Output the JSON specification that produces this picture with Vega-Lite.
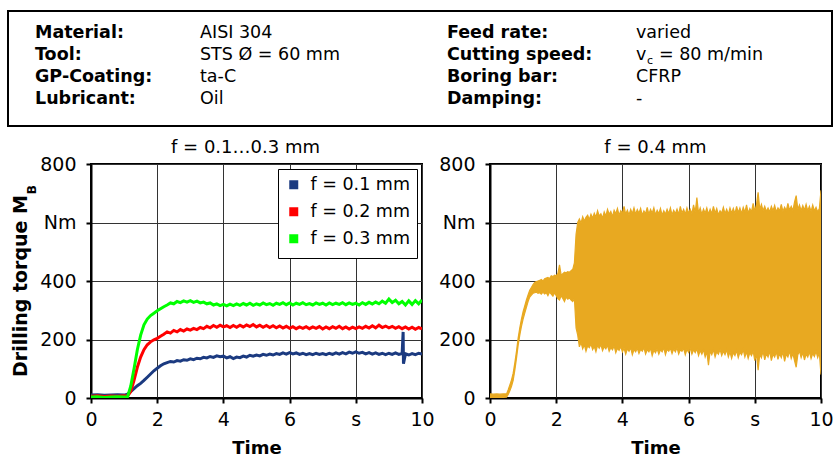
{
"$schema": "https://vega.github.io/schema/vega-lite/v6.json",
"background": "white",
"padding": {"left": 7, "top": 10, "right": 0, "bottom": 0},
"spacing": 11,
"resolve": {"scale": {"color": "independent"}, "legend": {"color": "independent"}},
"config": {
  "font": "DejaVu Sans",
  "view": {"stroke": "black", "strokeWidth": 2},
  "axis": {"domainColor": "black", "domainWidth": 2, "tickColor": "black", "tickWidth": 2, "tickSize": 5, "gridColor": "#333", "gridWidth": 1, "labelFont": "DejaVu Sans", "labelFontSize": 19, "labelColor": "black", "titleFont": "DejaVu Sans", "titleFontSize": 18, "titleColor": "black", "titleFontWeight": "bold"},
  "title": {"font": "DejaVu Sans", "fontSize": 18, "fontWeight": "normal", "color": "black", "offset": -2}
},
"vconcat": [
  {
    "width": 741, "height": 115,
    "view": {"stroke": null},
    "resolve": {"scale": {"x": "independent"}},
    "layer": [
      {
        "data": {"values": [{"a": 0, "b": 1}]},
        "mark": {"type": "rect", "fill": "white", "stroke": "black", "strokeWidth": 2},
        "encoding": {
          "x": {"field": "a", "type": "quantitative", "scale": {"domain": [0, 1], "range": [-83, 741]}, "axis": null},
          "x2": {"field": "b"}
        }
      },
      {
        "data": {"values": [
          {"side": "L", "line": 1, "kind": "k", "text": "Material:"},
          {"side": "L", "line": 1, "kind": "v", "text": "AISI 304"},
          {"side": "L", "line": 2, "kind": "k", "text": "Tool:"},
          {"side": "L", "line": 2, "kind": "v", "text": "STS Ø = 60 mm"},
          {"side": "L", "line": 3, "kind": "k", "text": "GP-Coating:"},
          {"side": "L", "line": 3, "kind": "v", "text": "ta-C"},
          {"side": "L", "line": 4, "kind": "k", "text": "Lubricant:"},
          {"side": "L", "line": 4, "kind": "v", "text": "Oil"},
          {"side": "R", "line": 1, "kind": "k", "text": "Feed rate:"},
          {"side": "R", "line": 1, "kind": "v", "text": "varied"},
          {"side": "R", "line": 2, "kind": "k", "text": "Cutting speed:"},
          {"side": "R", "line": 2, "kind": "v", "text": "v"},
          {"side": "R", "line": 2, "kind": "sub", "text": "c"},
          {"side": "R", "line": 2, "kind": "rest", "text": "= 80 m/min"},
          {"side": "R", "line": 3, "kind": "k", "text": "Boring bar:"},
          {"side": "R", "line": 3, "kind": "v", "text": "CFRP"},
          {"side": "R", "line": 4, "kind": "k", "text": "Damping:"},
          {"side": "R", "line": 4, "kind": "v", "text": "-"}
        ]},
        "encoding": {
          "x": {"field": "side", "type": "nominal", "scale": {"type": "point", "domain": ["L", "R"], "range": [-56, 356], "padding": 0}, "axis": null},
          "y": {"field": "line", "type": "ordinal", "scale": {"type": "point", "domain": [1, 2, 3, 4], "range": [27, 93], "padding": 0}, "axis": null},
          "text": {"field": "text"}
        },
        "layer": [
          {"transform": [{"filter": "datum.kind == 'k'"}], "mark": {"type": "text", "align": "left", "baseline": "alphabetic", "fontSize": 17.5, "fontWeight": "bold", "color": "black"}},
          {"transform": [{"filter": "datum.kind == 'v' && datum.side == 'L'"}], "mark": {"type": "text", "align": "left", "baseline": "alphabetic", "fontSize": 17.5, "color": "black", "dx": 165}},
          {"transform": [{"filter": "datum.kind == 'v' && datum.side == 'R'"}], "mark": {"type": "text", "align": "left", "baseline": "alphabetic", "fontSize": 17.5, "color": "black", "dx": 189}},
          {"transform": [{"filter": "datum.kind == 'sub'"}], "mark": {"type": "text", "align": "left", "baseline": "alphabetic", "fontSize": 11, "color": "black", "dx": 200, "dy": 4}},
          {"transform": [{"filter": "datum.kind == 'rest'"}], "mark": {"type": "text", "align": "left", "baseline": "alphabetic", "fontSize": 17.5, "color": "black", "dx": 212}}
        ]
      }
    ]
  },
  {
    "spacing": 1,
    "resolve": {"scale": {"color": "independent"}, "legend": {"color": "independent"}},
    "hconcat": [
      {
        "width": 331, "height": 234,
        "title": {"text": "f = 0.1…0.3 mm", "dx": -11},
        "layer": [
          {
            "data": {"values": [
              {"s":"f = 0.1 mm","t":0,"v":10},{"s":"f = 0.1 mm","t":0.2,"v":11},{"s":"f = 0.1 mm","t":0.4,"v":9},{"s":"f = 0.1 mm","t":0.6,"v":10},{"s":"f = 0.1 mm","t":0.8,"v":11},{"s":"f = 0.1 mm","t":1.0,"v":10},{"s":"f = 0.1 mm","t":1.1,"v":13},{"s":"f = 0.1 mm","t":1.2,"v":22},{"s":"f = 0.1 mm","t":1.3,"v":32},{"s":"f = 0.1 mm","t":1.4,"v":42},{"s":"f = 0.1 mm","t":1.5,"v":50},{"s":"f = 0.1 mm","t":1.6,"v":60},{"s":"f = 0.1 mm","t":1.7,"v":71},{"s":"f = 0.1 mm","t":1.8,"v":82},{"s":"f = 0.1 mm","t":1.9,"v":93},{"s":"f = 0.1 mm","t":2.0,"v":102},{"s":"f = 0.1 mm","t":2.1,"v":110},{"s":"f = 0.1 mm","t":2.2,"v":117},{"s":"f = 0.1 mm","t":2.3,"v":121},{"s":"f = 0.1 mm","t":2.4,"v":125},{"s":"f = 0.1 mm","t":2.5,"v":123},{"s":"f = 0.1 mm","t":2.6,"v":128},{"s":"f = 0.1 mm","t":2.7,"v":126},{"s":"f = 0.1 mm","t":2.8,"v":131},{"s":"f = 0.1 mm","t":2.9,"v":129},{"s":"f = 0.1 mm","t":3.0,"v":134},{"s":"f = 0.1 mm","t":3.1,"v":131},{"s":"f = 0.1 mm","t":3.2,"v":136},{"s":"f = 0.1 mm","t":3.3,"v":134},{"s":"f = 0.1 mm","t":3.4,"v":139},{"s":"f = 0.1 mm","t":3.5,"v":137},{"s":"f = 0.1 mm","t":3.6,"v":142},{"s":"f = 0.1 mm","t":3.7,"v":139},{"s":"f = 0.1 mm","t":3.8,"v":144},{"s":"f = 0.1 mm","t":3.9,"v":141},{"s":"f = 0.1 mm","t":4.0,"v":143},{"s":"f = 0.1 mm","t":4.1,"v":137},{"s":"f = 0.1 mm","t":4.2,"v":141},{"s":"f = 0.1 mm","t":4.3,"v":135},{"s":"f = 0.1 mm","t":4.4,"v":140},{"s":"f = 0.1 mm","t":4.5,"v":138},{"s":"f = 0.1 mm","t":4.6,"v":143},{"s":"f = 0.1 mm","t":4.7,"v":140},{"s":"f = 0.1 mm","t":4.8,"v":146},{"s":"f = 0.1 mm","t":4.9,"v":143},{"s":"f = 0.1 mm","t":5.0,"v":147},{"s":"f = 0.1 mm","t":5.1,"v":144},{"s":"f = 0.1 mm","t":5.2,"v":149},{"s":"f = 0.1 mm","t":5.3,"v":146},{"s":"f = 0.1 mm","t":5.4,"v":150},{"s":"f = 0.1 mm","t":5.5,"v":147},{"s":"f = 0.1 mm","t":5.6,"v":152},{"s":"f = 0.1 mm","t":5.7,"v":149},{"s":"f = 0.1 mm","t":5.8,"v":154},{"s":"f = 0.1 mm","t":5.9,"v":150},{"s":"f = 0.1 mm","t":6.0,"v":155},{"s":"f = 0.1 mm","t":6.1,"v":151},{"s":"f = 0.1 mm","t":6.2,"v":154},{"s":"f = 0.1 mm","t":6.3,"v":149},{"s":"f = 0.1 mm","t":6.4,"v":153},{"s":"f = 0.1 mm","t":6.5,"v":148},{"s":"f = 0.1 mm","t":6.6,"v":152},{"s":"f = 0.1 mm","t":6.7,"v":148},{"s":"f = 0.1 mm","t":6.8,"v":153},{"s":"f = 0.1 mm","t":6.9,"v":149},{"s":"f = 0.1 mm","t":7.0,"v":152},{"s":"f = 0.1 mm","t":7.1,"v":148},{"s":"f = 0.1 mm","t":7.2,"v":153},{"s":"f = 0.1 mm","t":7.3,"v":149},{"s":"f = 0.1 mm","t":7.4,"v":154},{"s":"f = 0.1 mm","t":7.5,"v":150},{"s":"f = 0.1 mm","t":7.6,"v":155},{"s":"f = 0.1 mm","t":7.7,"v":151},{"s":"f = 0.1 mm","t":7.8,"v":157},{"s":"f = 0.1 mm","t":7.9,"v":153},{"s":"f = 0.1 mm","t":8.0,"v":158},{"s":"f = 0.1 mm","t":8.1,"v":153},{"s":"f = 0.1 mm","t":8.2,"v":156},{"s":"f = 0.1 mm","t":8.3,"v":151},{"s":"f = 0.1 mm","t":8.4,"v":155},{"s":"f = 0.1 mm","t":8.5,"v":150},{"s":"f = 0.1 mm","t":8.6,"v":154},{"s":"f = 0.1 mm","t":8.7,"v":149},{"s":"f = 0.1 mm","t":8.8,"v":153},{"s":"f = 0.1 mm","t":8.9,"v":148},{"s":"f = 0.1 mm","t":9.0,"v":153},{"s":"f = 0.1 mm","t":9.1,"v":149},{"s":"f = 0.1 mm","t":9.2,"v":154},{"s":"f = 0.1 mm","t":9.3,"v":149},{"s":"f = 0.1 mm","t":9.4,"v":152},{"s":"f = 0.1 mm","t":9.43,"v":226},{"s":"f = 0.1 mm","t":9.44,"v":117},{"s":"f = 0.1 mm","t":9.5,"v":151},{"s":"f = 0.1 mm","t":9.6,"v":147},{"s":"f = 0.1 mm","t":9.7,"v":152},{"s":"f = 0.1 mm","t":9.8,"v":148},{"s":"f = 0.1 mm","t":9.9,"v":153},{"s":"f = 0.1 mm","t":10.0,"v":150},
              {"s":"f = 0.2 mm","t":0,"v":6},{"s":"f = 0.2 mm","t":0.2,"v":8},{"s":"f = 0.2 mm","t":0.4,"v":5},{"s":"f = 0.2 mm","t":0.6,"v":7},{"s":"f = 0.2 mm","t":0.8,"v":6},{"s":"f = 0.2 mm","t":1.0,"v":8},{"s":"f = 0.2 mm","t":1.1,"v":6},{"s":"f = 0.2 mm","t":1.2,"v":22},{"s":"f = 0.2 mm","t":1.3,"v":60},{"s":"f = 0.2 mm","t":1.4,"v":105},{"s":"f = 0.2 mm","t":1.5,"v":140},{"s":"f = 0.2 mm","t":1.6,"v":165},{"s":"f = 0.2 mm","t":1.7,"v":182},{"s":"f = 0.2 mm","t":1.8,"v":192},{"s":"f = 0.2 mm","t":1.9,"v":199},{"s":"f = 0.2 mm","t":2.0,"v":204},{"s":"f = 0.2 mm","t":2.1,"v":211},{"s":"f = 0.2 mm","t":2.2,"v":218},{"s":"f = 0.2 mm","t":2.3,"v":226},{"s":"f = 0.2 mm","t":2.4,"v":222},{"s":"f = 0.2 mm","t":2.5,"v":231},{"s":"f = 0.2 mm","t":2.6,"v":226},{"s":"f = 0.2 mm","t":2.7,"v":234},{"s":"f = 0.2 mm","t":2.8,"v":229},{"s":"f = 0.2 mm","t":2.9,"v":236},{"s":"f = 0.2 mm","t":3.0,"v":232},{"s":"f = 0.2 mm","t":3.1,"v":238},{"s":"f = 0.2 mm","t":3.2,"v":234},{"s":"f = 0.2 mm","t":3.3,"v":241},{"s":"f = 0.2 mm","t":3.4,"v":237},{"s":"f = 0.2 mm","t":3.5,"v":245},{"s":"f = 0.2 mm","t":3.6,"v":240},{"s":"f = 0.2 mm","t":3.7,"v":248},{"s":"f = 0.2 mm","t":3.8,"v":242},{"s":"f = 0.2 mm","t":3.9,"v":249},{"s":"f = 0.2 mm","t":4.0,"v":243},{"s":"f = 0.2 mm","t":4.1,"v":247},{"s":"f = 0.2 mm","t":4.2,"v":241},{"s":"f = 0.2 mm","t":4.3,"v":248},{"s":"f = 0.2 mm","t":4.4,"v":242},{"s":"f = 0.2 mm","t":4.5,"v":249},{"s":"f = 0.2 mm","t":4.6,"v":243},{"s":"f = 0.2 mm","t":4.7,"v":250},{"s":"f = 0.2 mm","t":4.8,"v":244},{"s":"f = 0.2 mm","t":4.9,"v":251},{"s":"f = 0.2 mm","t":5.0,"v":243},{"s":"f = 0.2 mm","t":5.1,"v":249},{"s":"f = 0.2 mm","t":5.2,"v":242},{"s":"f = 0.2 mm","t":5.3,"v":248},{"s":"f = 0.2 mm","t":5.4,"v":241},{"s":"f = 0.2 mm","t":5.5,"v":247},{"s":"f = 0.2 mm","t":5.6,"v":240},{"s":"f = 0.2 mm","t":5.7,"v":246},{"s":"f = 0.2 mm","t":5.8,"v":239},{"s":"f = 0.2 mm","t":5.9,"v":245},{"s":"f = 0.2 mm","t":6.0,"v":238},{"s":"f = 0.2 mm","t":6.1,"v":244},{"s":"f = 0.2 mm","t":6.2,"v":237},{"s":"f = 0.2 mm","t":6.3,"v":243},{"s":"f = 0.2 mm","t":6.4,"v":238},{"s":"f = 0.2 mm","t":6.5,"v":244},{"s":"f = 0.2 mm","t":6.6,"v":237},{"s":"f = 0.2 mm","t":6.7,"v":243},{"s":"f = 0.2 mm","t":6.8,"v":238},{"s":"f = 0.2 mm","t":6.9,"v":244},{"s":"f = 0.2 mm","t":7.0,"v":236},{"s":"f = 0.2 mm","t":7.1,"v":243},{"s":"f = 0.2 mm","t":7.2,"v":237},{"s":"f = 0.2 mm","t":7.3,"v":244},{"s":"f = 0.2 mm","t":7.4,"v":238},{"s":"f = 0.2 mm","t":7.5,"v":245},{"s":"f = 0.2 mm","t":7.6,"v":237},{"s":"f = 0.2 mm","t":7.7,"v":243},{"s":"f = 0.2 mm","t":7.8,"v":236},{"s":"f = 0.2 mm","t":7.9,"v":242},{"s":"f = 0.2 mm","t":8.0,"v":237},{"s":"f = 0.2 mm","t":8.1,"v":243},{"s":"f = 0.2 mm","t":8.2,"v":238},{"s":"f = 0.2 mm","t":8.3,"v":245},{"s":"f = 0.2 mm","t":8.4,"v":239},{"s":"f = 0.2 mm","t":8.5,"v":247},{"s":"f = 0.2 mm","t":8.6,"v":240},{"s":"f = 0.2 mm","t":8.7,"v":249},{"s":"f = 0.2 mm","t":8.8,"v":241},{"s":"f = 0.2 mm","t":8.9,"v":246},{"s":"f = 0.2 mm","t":9.0,"v":240},{"s":"f = 0.2 mm","t":9.1,"v":245},{"s":"f = 0.2 mm","t":9.2,"v":238},{"s":"f = 0.2 mm","t":9.3,"v":244},{"s":"f = 0.2 mm","t":9.4,"v":237},{"s":"f = 0.2 mm","t":9.5,"v":243},{"s":"f = 0.2 mm","t":9.6,"v":236},{"s":"f = 0.2 mm","t":9.7,"v":242},{"s":"f = 0.2 mm","t":9.8,"v":235},{"s":"f = 0.2 mm","t":9.9,"v":241},{"s":"f = 0.2 mm","t":10.0,"v":236},
              {"s":"f = 0.3 mm","t":0,"v":3},{"s":"f = 0.3 mm","t":0.2,"v":4},{"s":"f = 0.3 mm","t":0.4,"v":2},{"s":"f = 0.3 mm","t":0.6,"v":3},{"s":"f = 0.3 mm","t":0.8,"v":4},{"s":"f = 0.3 mm","t":1.0,"v":3},{"s":"f = 0.3 mm","t":1.1,"v":3},{"s":"f = 0.3 mm","t":1.2,"v":40},{"s":"f = 0.3 mm","t":1.3,"v":100},{"s":"f = 0.3 mm","t":1.4,"v":165},{"s":"f = 0.3 mm","t":1.5,"v":215},{"s":"f = 0.3 mm","t":1.6,"v":250},{"s":"f = 0.3 mm","t":1.7,"v":270},{"s":"f = 0.3 mm","t":1.8,"v":282},{"s":"f = 0.3 mm","t":1.9,"v":290},{"s":"f = 0.3 mm","t":2.0,"v":298},{"s":"f = 0.3 mm","t":2.1,"v":305},{"s":"f = 0.3 mm","t":2.2,"v":312},{"s":"f = 0.3 mm","t":2.3,"v":318},{"s":"f = 0.3 mm","t":2.4,"v":325},{"s":"f = 0.3 mm","t":2.5,"v":322},{"s":"f = 0.3 mm","t":2.6,"v":330},{"s":"f = 0.3 mm","t":2.7,"v":326},{"s":"f = 0.3 mm","t":2.8,"v":332},{"s":"f = 0.3 mm","t":2.9,"v":328},{"s":"f = 0.3 mm","t":3.0,"v":333},{"s":"f = 0.3 mm","t":3.1,"v":327},{"s":"f = 0.3 mm","t":3.2,"v":331},{"s":"f = 0.3 mm","t":3.3,"v":325},{"s":"f = 0.3 mm","t":3.4,"v":328},{"s":"f = 0.3 mm","t":3.5,"v":322},{"s":"f = 0.3 mm","t":3.6,"v":325},{"s":"f = 0.3 mm","t":3.7,"v":318},{"s":"f = 0.3 mm","t":3.8,"v":322},{"s":"f = 0.3 mm","t":3.9,"v":316},{"s":"f = 0.3 mm","t":4.0,"v":320},{"s":"f = 0.3 mm","t":4.1,"v":315},{"s":"f = 0.3 mm","t":4.2,"v":321},{"s":"f = 0.3 mm","t":4.3,"v":316},{"s":"f = 0.3 mm","t":4.4,"v":322},{"s":"f = 0.3 mm","t":4.5,"v":317},{"s":"f = 0.3 mm","t":4.6,"v":323},{"s":"f = 0.3 mm","t":4.7,"v":318},{"s":"f = 0.3 mm","t":4.8,"v":324},{"s":"f = 0.3 mm","t":4.9,"v":317},{"s":"f = 0.3 mm","t":5.0,"v":322},{"s":"f = 0.3 mm","t":5.1,"v":318},{"s":"f = 0.3 mm","t":5.2,"v":325},{"s":"f = 0.3 mm","t":5.3,"v":319},{"s":"f = 0.3 mm","t":5.4,"v":323},{"s":"f = 0.3 mm","t":5.5,"v":317},{"s":"f = 0.3 mm","t":5.6,"v":324},{"s":"f = 0.3 mm","t":5.7,"v":320},{"s":"f = 0.3 mm","t":5.8,"v":326},{"s":"f = 0.3 mm","t":5.9,"v":319},{"s":"f = 0.3 mm","t":6.0,"v":325},{"s":"f = 0.3 mm","t":6.1,"v":318},{"s":"f = 0.3 mm","t":6.2,"v":324},{"s":"f = 0.3 mm","t":6.3,"v":320},{"s":"f = 0.3 mm","t":6.4,"v":326},{"s":"f = 0.3 mm","t":6.5,"v":319},{"s":"f = 0.3 mm","t":6.6,"v":323},{"s":"f = 0.3 mm","t":6.7,"v":318},{"s":"f = 0.3 mm","t":6.8,"v":325},{"s":"f = 0.3 mm","t":6.9,"v":320},{"s":"f = 0.3 mm","t":7.0,"v":324},{"s":"f = 0.3 mm","t":7.1,"v":318},{"s":"f = 0.3 mm","t":7.2,"v":325},{"s":"f = 0.3 mm","t":7.3,"v":319},{"s":"f = 0.3 mm","t":7.4,"v":324},{"s":"f = 0.3 mm","t":7.5,"v":320},{"s":"f = 0.3 mm","t":7.6,"v":326},{"s":"f = 0.3 mm","t":7.7,"v":319},{"s":"f = 0.3 mm","t":7.8,"v":325},{"s":"f = 0.3 mm","t":7.9,"v":320},{"s":"f = 0.3 mm","t":8.0,"v":324},{"s":"f = 0.3 mm","t":8.1,"v":318},{"s":"f = 0.3 mm","t":8.2,"v":326},{"s":"f = 0.3 mm","t":8.3,"v":320},{"s":"f = 0.3 mm","t":8.4,"v":327},{"s":"f = 0.3 mm","t":8.5,"v":321},{"s":"f = 0.3 mm","t":8.6,"v":328},{"s":"f = 0.3 mm","t":8.7,"v":322},{"s":"f = 0.3 mm","t":8.8,"v":331},{"s":"f = 0.3 mm","t":8.9,"v":324},{"s":"f = 0.3 mm","t":9.0,"v":338},{"s":"f = 0.3 mm","t":9.1,"v":326},{"s":"f = 0.3 mm","t":9.2,"v":334},{"s":"f = 0.3 mm","t":9.3,"v":322},{"s":"f = 0.3 mm","t":9.4,"v":330},{"s":"f = 0.3 mm","t":9.5,"v":318},{"s":"f = 0.3 mm","t":9.6,"v":332},{"s":"f = 0.3 mm","t":9.7,"v":320},{"s":"f = 0.3 mm","t":9.8,"v":333},{"s":"f = 0.3 mm","t":9.9,"v":322},{"s":"f = 0.3 mm","t":10.0,"v":335}
            ]},
            "mark": {"type": "line", "strokeWidth": 3, "clip": true},
            "encoding": {
              "x": {"field": "t", "type": "quantitative", "scale": {"domain": [0, 10], "nice": false}, "axis": {"values": [0, 2, 4, 6, 8, 10], "labelExpr": "datum.value == 8 ? 's' : datum.label", "title": "Time", "labelPadding": 7, "titlePadding": 10, "labelFlush": false, "grid": true}},
              "y": {"field": "v", "type": "quantitative", "scale": {"domain": [0, 800], "nice": false}, "axis": {"values": [0, 200, 400, 600, 800], "labelExpr": "datum.value == 600 ? 'Nm' : datum.label", "title": null, "labelPadding": 10, "grid": true, "labelFlush": false}},
              "color": {"field": "s", "type": "nominal", "scale": {"domain": ["f = 0.1 mm", "f = 0.2 mm", "f = 0.3 mm"], "range": ["#1b3a80", "#ff0000", "#00ff00"]}, "legend": {"title": null, "orient": "top-right", "offset": 5, "strokeColor": "black", "fillColor": "white", "padding": 7, "symbolType": "square", "symbolSize": 16, "symbolStrokeWidth": 5, "labelFontSize": 17.5, "labelFont": "DejaVu Sans", "labelColor": "black", "labelOffset": 8, "rowPadding": 2}}
            }
          },
          {
            "data": {"values": [{"label": "Drilling torque M"}]},
            "mark": {"type": "text", "angle": 270, "align": "right", "baseline": "alphabetic", "fontSize": 19, "fontWeight": "bold", "color": "black"},
            "encoding": {"x": {"datum": -1.92, "type": "quantitative"}, "y": {"datum": 694, "type": "quantitative"}, "text": {"field": "label"}}
          },
          {
            "data": {"values": [{"label": "B"}]},
            "mark": {"type": "text", "angle": 270, "align": "left", "baseline": "alphabetic", "fontSize": 12, "fontWeight": "bold", "color": "black"},
            "encoding": {"x": {"datum": -1.66, "type": "quantitative"}, "y": {"datum": 697, "type": "quantitative"}, "text": {"field": "label"}}
          }
        ]
      },
      {
        "width": 331, "height": 234,
        "title": {"text": "f = 0.4 mm"},
        "data": {"values": [
          {"t":0,"lo":2,"hi":14},{"t":0.1,"lo":3,"hi":13},{"t":0.2,"lo":2,"hi":14},{"t":0.3,"lo":3,"hi":13},{"t":0.4,"lo":2,"hi":14},{"t":0.5,"lo":3,"hi":14},{"t":0.55,"lo":12,"hi":28},{"t":0.6,"lo":25,"hi":45},{"t":0.65,"lo":40,"hi":62},{"t":0.7,"lo":60,"hi":85},{"t":0.75,"lo":95,"hi":120},{"t":0.8,"lo":135,"hi":160},{"t":0.85,"lo":180,"hi":205},{"t":0.9,"lo":215,"hi":240},{"t":0.95,"lo":245,"hi":270},{"t":1.0,"lo":270,"hi":295},{"t":1.05,"lo":290,"hi":315},{"t":1.1,"lo":310,"hi":335},{"t":1.15,"lo":330,"hi":352},{"t":1.2,"lo":345,"hi":368},{"t":1.25,"lo":352,"hi":378},{"t":1.3,"lo":358,"hi":388},{"t":1.35,"lo":360,"hi":395},{"t":1.4,"lo":362,"hi":398},{"t":1.45,"lo":358,"hi":400},{"t":1.5,"lo":360,"hi":402},{"t":1.55,"lo":355,"hi":405},{"t":1.6,"lo":362,"hi":400},{"t":1.65,"lo":356,"hi":408},{"t":1.7,"lo":360,"hi":410},{"t":1.75,"lo":350,"hi":412},{"t":1.8,"lo":362,"hi":408},{"t":1.85,"lo":355,"hi":418},{"t":1.9,"lo":348,"hi":415},{"t":1.95,"lo":360,"hi":420},{"t":2.0,"lo":350,"hi":418},{"t":2.05,"lo":340,"hi":425},{"t":2.1,"lo":335,"hi":455},{"t":2.15,"lo":350,"hi":420},{"t":2.2,"lo":340,"hi":425},{"t":2.25,"lo":330,"hi":430},{"t":2.3,"lo":345,"hi":428},{"t":2.35,"lo":338,"hi":432},{"t":2.4,"lo":342,"hi":430},{"t":2.45,"lo":335,"hi":435},{"t":2.5,"lo":330,"hi":440},{"t":2.55,"lo":340,"hi":462},
          {"t":2.6,"lo":240,"hi":560},{"t":2.65,"lo":215,"hi":600},{"t":2.7,"lo":175,"hi":612},{"t":2.75,"lo":190,"hi":598},{"t":2.8,"lo":168,"hi":620},{"t":2.85,"lo":182,"hi":605},{"t":2.9,"lo":160,"hi":618},{"t":2.95,"lo":178,"hi":625},{"t":3.0,"lo":172,"hi":610},{"t":3.05,"lo":185,"hi":628},{"t":3.1,"lo":165,"hi":615},{"t":3.15,"lo":176,"hi":632},{"t":3.2,"lo":158,"hi":618},{"t":3.25,"lo":180,"hi":640},{"t":3.3,"lo":170,"hi":622},{"t":3.35,"lo":183,"hi":630},{"t":3.4,"lo":162,"hi":615},{"t":3.45,"lo":175,"hi":636},{"t":3.5,"lo":168,"hi":622},{"t":3.55,"lo":180,"hi":645},{"t":3.6,"lo":160,"hi":628},{"t":3.65,"lo":172,"hi":638},{"t":3.7,"lo":165,"hi":620},{"t":3.75,"lo":178,"hi":642},{"t":3.8,"lo":155,"hi":630},{"t":3.85,"lo":170,"hi":648},{"t":3.9,"lo":163,"hi":625},{"t":3.95,"lo":176,"hi":640},{"t":4.0,"lo":158,"hi":632},{"t":4.05,"lo":170,"hi":655},{"t":4.1,"lo":150,"hi":628},{"t":4.15,"lo":168,"hi":642},{"t":4.2,"lo":160,"hi":626},{"t":4.25,"lo":172,"hi":645},{"t":4.3,"lo":148,"hi":630},{"t":4.35,"lo":165,"hi":650},{"t":4.4,"lo":158,"hi":628},{"t":4.45,"lo":170,"hi":644},{"t":4.5,"lo":152,"hi":632},{"t":4.55,"lo":166,"hi":648},{"t":4.6,"lo":160,"hi":625},{"t":4.65,"lo":172,"hi":640},{"t":4.7,"lo":150,"hi":630},{"t":4.75,"lo":165,"hi":652},{"t":4.8,"lo":158,"hi":628},{"t":4.85,"lo":170,"hi":645},{"t":4.9,"lo":145,"hi":632},{"t":4.95,"lo":163,"hi":650},{"t":5.0,"lo":155,"hi":626},{"t":5.05,"lo":168,"hi":642},{"t":5.1,"lo":150,"hi":630},{"t":5.15,"lo":165,"hi":648},{"t":5.2,"lo":158,"hi":625},{"t":5.25,"lo":172,"hi":640},{"t":5.3,"lo":148,"hi":628},{"t":5.35,"lo":166,"hi":645},{"t":5.4,"lo":160,"hi":630},{"t":5.45,"lo":170,"hi":650},{"t":5.5,"lo":152,"hi":626},{"t":5.55,"lo":168,"hi":642},{"t":5.6,"lo":158,"hi":630},{"t":5.65,"lo":172,"hi":646},{"t":5.7,"lo":150,"hi":628},{"t":5.75,"lo":165,"hi":655},{"t":5.8,"lo":160,"hi":632},{"t":5.85,"lo":170,"hi":645},{"t":5.9,"lo":148,"hi":628},{"t":5.95,"lo":166,"hi":650},{"t":6.0,"lo":156,"hi":632},{"t":6.05,"lo":170,"hi":645},{"t":6.1,"lo":150,"hi":630},{"t":6.15,"lo":165,"hi":660},{"t":6.2,"lo":155,"hi":635},{"t":6.25,"lo":168,"hi":685},{"t":6.3,"lo":145,"hi":632},{"t":6.35,"lo":162,"hi":650},{"t":6.4,"lo":150,"hi":628},{"t":6.45,"lo":165,"hi":646},{"t":6.5,"lo":140,"hi":632},{"t":6.55,"lo":158,"hi":650},{"t":6.6,"lo":112,"hi":628},{"t":6.65,"lo":160,"hi":645},{"t":6.7,"lo":148,"hi":630},{"t":6.75,"lo":165,"hi":655},{"t":6.8,"lo":140,"hi":632},{"t":6.85,"lo":158,"hi":648},{"t":6.9,"lo":150,"hi":626},{"t":6.95,"lo":166,"hi":640},{"t":7.0,"lo":145,"hi":632},{"t":7.05,"lo":160,"hi":652},{"t":7.1,"lo":148,"hi":630},{"t":7.15,"lo":165,"hi":645},{"t":7.2,"lo":140,"hi":628},{"t":7.25,"lo":158,"hi":650},{"t":7.3,"lo":135,"hi":632},{"t":7.35,"lo":155,"hi":648},{"t":7.4,"lo":145,"hi":630},{"t":7.45,"lo":162,"hi":655},{"t":7.5,"lo":138,"hi":634},{"t":7.55,"lo":156,"hi":650},{"t":7.6,"lo":148,"hi":630},{"t":7.65,"lo":165,"hi":652},{"t":7.7,"lo":140,"hi":635},{"t":7.75,"lo":158,"hi":660},{"t":7.8,"lo":135,"hi":632},{"t":7.85,"lo":155,"hi":648},{"t":7.9,"lo":145,"hi":636},{"t":7.95,"lo":160,"hi":665},{"t":8.0,"lo":128,"hi":640},{"t":8.05,"lo":150,"hi":660},{"t":8.1,"lo":95,"hi":703},{"t":8.15,"lo":150,"hi":645},{"t":8.2,"lo":138,"hi":662},{"t":8.25,"lo":160,"hi":640},{"t":8.3,"lo":130,"hi":655},{"t":8.35,"lo":152,"hi":638},{"t":8.4,"lo":140,"hi":650},{"t":8.45,"lo":160,"hi":636},{"t":8.5,"lo":128,"hi":655},{"t":8.55,"lo":150,"hi":640},{"t":8.6,"lo":140,"hi":658},{"t":8.65,"lo":158,"hi":636},{"t":8.7,"lo":132,"hi":650},{"t":8.75,"lo":152,"hi":640},{"t":8.8,"lo":138,"hi":662},{"t":8.85,"lo":158,"hi":638},{"t":8.9,"lo":125,"hi":652},{"t":8.95,"lo":150,"hi":640},{"t":9.0,"lo":140,"hi":665},{"t":9.05,"lo":160,"hi":642},{"t":9.1,"lo":135,"hi":655},{"t":9.15,"lo":152,"hi":640},{"t":9.2,"lo":128,"hi":670},{"t":9.25,"lo":105,"hi":692},{"t":9.3,"lo":148,"hi":645},{"t":9.35,"lo":160,"hi":660},{"t":9.4,"lo":138,"hi":640},{"t":9.45,"lo":155,"hi":658},{"t":9.5,"lo":130,"hi":642},{"t":9.55,"lo":150,"hi":662},{"t":9.6,"lo":140,"hi":640},{"t":9.65,"lo":158,"hi":655},{"t":9.7,"lo":135,"hi":638},{"t":9.75,"lo":152,"hi":660},{"t":9.8,"lo":142,"hi":640},{"t":9.85,"lo":160,"hi":652},{"t":9.9,"lo":138,"hi":636},{"t":9.95,"lo":155,"hi":648},{"t":10.0,"lo":80,"hi":710}
        ]},
        "mark": {"type": "area", "color": "#e8a921", "stroke": "#e8a921", "strokeWidth": 1.2, "clip": true},
        "encoding": {
          "x": {"field": "t", "type": "quantitative", "scale": {"domain": [0, 10], "nice": false}, "axis": {"values": [0, 2, 4, 6, 8, 10], "labelExpr": "datum.value == 8 ? 's' : datum.label", "title": "Time", "labelPadding": 7, "titlePadding": 10, "labelFlush": false, "grid": true}},
          "y": {"field": "lo", "type": "quantitative", "scale": {"domain": [0, 800], "nice": false}, "axis": {"values": [0, 200, 400, 600, 800], "labelExpr": "datum.value == 600 ? 'Nm' : datum.label", "title": null, "labelPadding": 10, "grid": true, "labelFlush": false}},
          "y2": {"field": "hi"}
        }
      }
    ]
  }
]
}
